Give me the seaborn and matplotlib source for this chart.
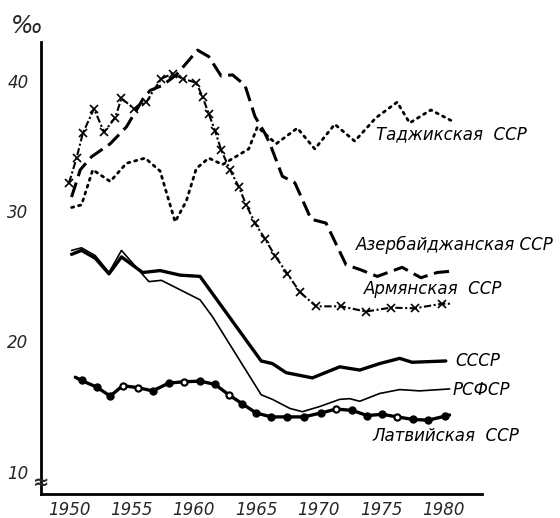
import matplotlib
matplotlib.use("Agg")
import matplotlib.pyplot as plt
import seaborn as sns
import pandas as pd

# Birth rate, per mille
tajik_years = [1950.2, 1951.0, 1951.9, 1953.3, 1954.6, 1956.1, 1957.3, 1958.5, 1959.4, 1960.2,
               1961.2, 1962.3, 1963.7, 1964.4, 1965.1, 1966.6, 1968.3, 1969.7, 1971.3, 1972.9,
               1974.6, 1976.3, 1977.3, 1979.0, 1980.6]
tajik_vals = [30.3, 30.5, 33.2, 32.3, 33.7, 34.1, 33.1, 29.2, 30.8, 33.3,
              34.1, 33.6, 34.4, 34.8, 36.5, 35.2, 36.4, 34.8, 36.7, 35.4,
              37.2, 38.4, 36.8, 37.8, 37.0]

azer_years = [1950.2, 1950.9, 1951.8, 1953.3, 1954.6, 1955.9, 1956.5, 1957.5, 1958.6, 1960.3,
              1961.2, 1962.2, 1963.1, 1964.1, 1964.9, 1965.7, 1966.1, 1967.1, 1968.1, 1969.4,
              1970.6, 1972.2, 1973.4, 1974.7, 1976.7, 1978.2, 1979.5, 1980.6]
azer_vals = [31.1, 33.2, 34.2, 35.2, 36.5, 38.6, 39.3, 39.7, 40.5, 42.4,
             41.9, 40.4, 40.5, 39.7, 37.3, 36.0, 35.2, 32.7, 32.2, 29.4,
             29.1, 25.9, 25.5, 25.0, 25.7, 24.9, 25.3, 25.4]

arm_years = [1950.0, 1950.6, 1951.1, 1952.0, 1952.8, 1953.7, 1954.2, 1955.2, 1956.2, 1956.7,
             1957.4, 1958.3, 1959.1, 1960.2, 1960.7, 1961.2, 1961.7, 1962.2, 1962.9, 1963.6,
             1964.2, 1964.9, 1965.7, 1966.5, 1967.5, 1968.5, 1969.8, 1971.8, 1973.8, 1975.8,
             1977.7, 1979.9, 1980.7]
arm_vals = [32.2, 34.1, 36.0, 37.9, 36.1, 37.2, 38.7, 37.9, 38.4, 39.2,
            40.2, 40.6, 40.2, 39.9, 38.8, 37.5, 36.2, 34.7, 33.2, 31.9,
            30.5, 29.1, 27.9, 26.6, 25.2, 23.8, 22.7, 22.7, 22.3, 22.6,
            22.55, 22.9, 22.9]
arm_no_marker = [9, 32]

ussr_years = [1950.2, 1951.0, 1952.1, 1953.2, 1954.2, 1955.9, 1957.3, 1958.9, 1960.5, 1965.4,
              1966.3, 1967.4, 1969.5, 1971.7, 1973.3, 1974.9, 1976.5, 1977.5, 1980.2]
ussr_vals = [26.7, 27.0, 26.4, 25.2, 26.5, 25.3, 25.45, 25.1, 25.0, 18.5,
             18.3, 17.6, 17.2, 18.05, 17.8, 18.3, 18.7, 18.4, 18.5]

rsfsr_years = [1950.2, 1951.0, 1952.1, 1953.2, 1954.2, 1956.4, 1957.4, 1960.5, 1961.5, 1965.4,
               1966.3, 1967.7, 1968.7, 1970.1, 1971.7, 1972.5, 1973.3, 1974.9, 1976.5, 1978.1,
               1980.5]
rsfsr_vals = [27.0, 27.2, 26.6, 25.3, 27.0, 24.6, 24.7, 23.2, 21.9, 15.9,
              15.55, 14.85, 14.6, 15.0, 15.55, 15.6, 15.4, 16.0, 16.3, 16.2,
              16.35]

latv_years = [1950.5, 1951.0, 1952.2, 1953.3, 1954.3, 1955.5, 1956.7, 1958.0, 1959.2, 1960.5,
              1961.7, 1962.8, 1963.9, 1965.0, 1966.2, 1967.5, 1968.8, 1970.2, 1971.4, 1972.7,
              1973.9, 1975.1, 1976.3, 1977.6, 1978.8, 1980.1, 1980.5]
latv_vals = [17.25, 17.0, 16.5, 15.8, 16.6, 16.45, 16.2, 16.8, 16.9, 16.95,
             16.7, 15.9, 15.2, 14.5, 14.2, 14.2, 14.2, 14.5, 14.8, 14.7,
             14.3, 14.4, 14.2, 14.0, 13.95, 14.25, 14.35]
latv_open = [4, 5, 8, 11, 18, 22]
latv_no_marker = [0, 26]

x_ticks = [1950, 1955, 1960, 1965, 1970, 1975, 1980]
y_ticks = [10, 20, 30, 40]

sns.set_style("white")
plt.rcParams["font.family"] = ["DejaVu Sans"]
plt.rcParams["font.style"] = "italic"

fig = plt.figure(figsize=(5.6, 5.18), dpi=100)
ax = fig.add_axes([0.0732, 0.0463, 0.7875, 0.873])


def draw(years, vals, **kw):
    df = pd.DataFrame({"year": years, "val": vals})
    sns.lineplot(data=df, x="year", y="val", ax=ax, estimator=None, sort=False,
                 color="black", markeredgecolor="black", **kw)
    return df


draw(tajik_years, tajik_vals, linewidth=2.0, linestyle=(0, (0.8, 1.8)),
     dash_capstyle="round")
draw(azer_years, azer_vals, linewidth=2.2, linestyle=(0, (5, 2.2)))
arm_marks = [i for i in range(len(arm_years)) if i not in arm_no_marker]
draw(arm_years, arm_vals, linewidth=1.5, linestyle=(0, (3.5, 1.2, 1, 1.2)), marker="x",
     markersize=6, markeredgewidth=1.2, markevery=arm_marks)
draw(ussr_years, ussr_vals, linewidth=2.4)
draw(rsfsr_years, rsfsr_vals, linewidth=1.2)
latv_marks = [i for i in range(len(latv_years)) if i not in latv_no_marker]
latv = draw(latv_years, latv_vals, linewidth=2.4, marker="o", markersize=5,
            markeredgewidth=1, markevery=latv_marks)
sns.scatterplot(data=latv.iloc[latv_open], x="year", y="val", ax=ax, s=16,
                color="white", edgecolor="black", linewidth=1.1, zorder=5)

ax.set_xlim(1947.75, 1983.1)
ax.set_ylim(8.27, 43.04)
ax.set_xticks(x_ticks)
ax.set_yticks(y_ticks)
ax.set_xlabel("")
ax.set_ylabel("")
for s in ["top", "right"]:
    ax.spines[s].set_visible(False)
for s in ["left", "bottom"]:
    ax.spines[s].set_linewidth(2)
    ax.spines[s].set_color("black")
ax.tick_params(direction="in", length=12, width=1.6, labelsize=12)
ax.tick_params(axis="x", pad=5)
ax.tick_params(axis="y", pad=9)

lab = dict(fontsize=12, color="black", va="center", ha="left")
ax.text(1974.6, 35.9, "Таджикская  ССР", **lab)
ax.text(1973.0, 27.4, "Азербайджанская ССР", **lab)
ax.text(1973.6, 24.0, "Армянская  ССР", **lab)
ax.text(1981.0, 18.5, "СССР", **lab)
ax.text(1980.7, 16.3, "РСФСР", **lab)
ax.text(1974.3, 12.7, "Латвийская  ССР", **lab)

fig.text(0.047, 0.95, "‰", fontsize=17, ha="center", va="center")
ax.text(0, 9.2, "≈", transform=ax.get_yaxis_transform(), fontsize=14,
        ha="center", va="center", fontweight="bold")

fig.savefig("out.png", dpi=100)
